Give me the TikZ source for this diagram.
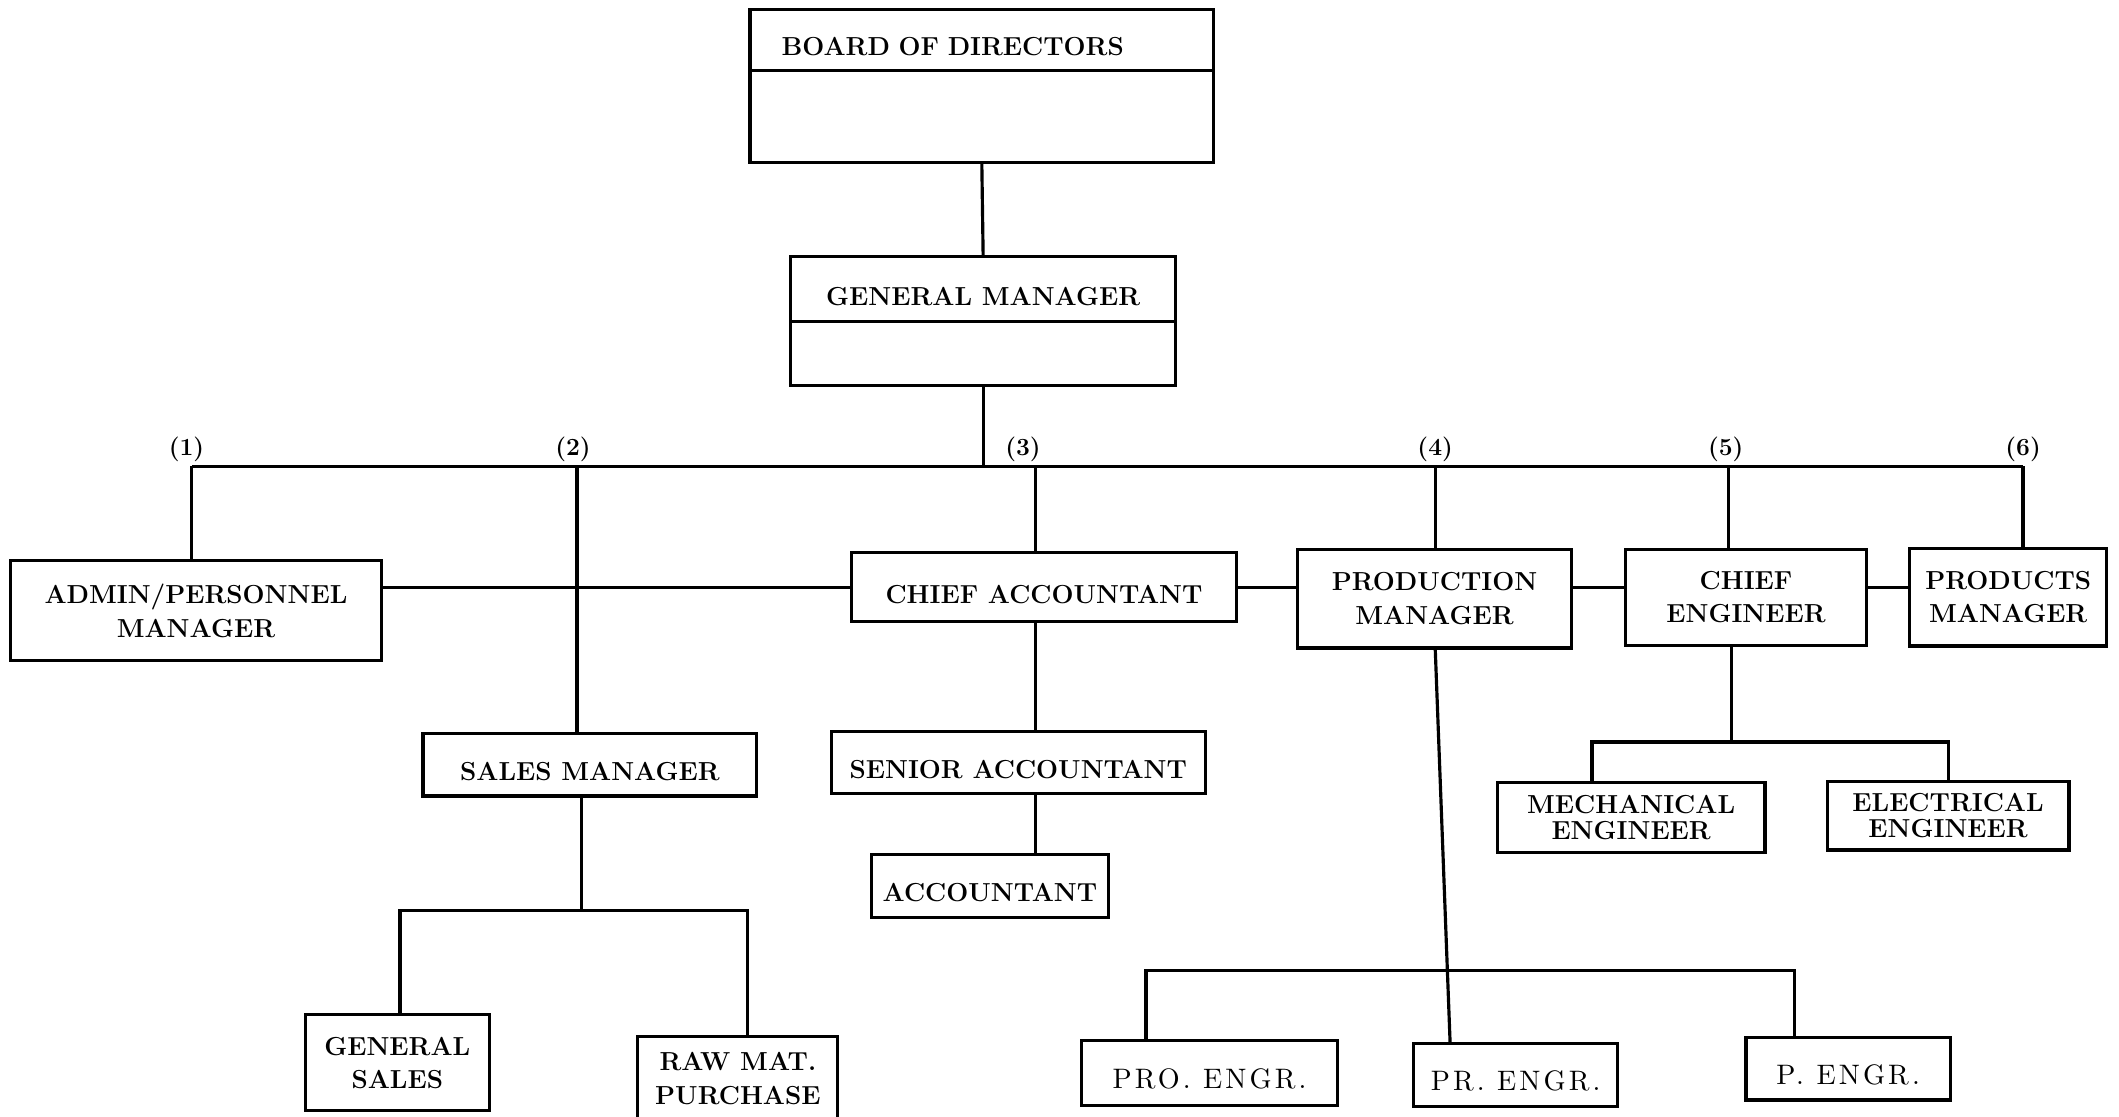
\documentclass[tikz,border=0pt]{standalone}
\usepackage{fontspec}
\usetikzlibrary{positioning}

\newfontfamily\spacedfont[LetterSpace=11]{lmroman10-regular.otf}
\newcommand{\pxu}{0.027cm}
\tikzset{
  box/.style 2 args={draw, line width=1.8pt, outer sep=0pt, inner sep=0pt,
    minimum width=#1*\pxu, minimum height=#2*\pxu, align=center,
    font=\bfseries\fontsize{14.8}{19}\selectfont},
  oneline/.style={text height=18pt, text depth=0pt},
  link/.style={line width=1.8pt},
  num/.style={font=\bfseries\fontsize{14}{14}\selectfont, anchor=south, inner sep=1pt},
  lightfont/.style={font=\spacedfont\fontsize{16}{18}\selectfont},
  tightfont/.style={font=\bfseries\fontsize{14.8}{15}\selectfont}
}

\begin{document}
\begin{tikzpicture}[x=\pxu, y=-\pxu]
        \useasboundingbox (0,0) rectangle (1568,826);

        % top of the chart
        \node[box={343}{45}, oneline, text width=8cm, align=left] (board) at (726.5,29.5) {BOARD OF DIRECTORS};
        \node[box={343}{68}, below=0pt of board] (boardlow) {};
        \node[box={285}{48}, oneline] (gm) at (727.5,214) {GENERAL MANAGER};
        \node[box={285}{47}, below=0pt of gm] (gmlow) {};

        % bus with the six numbered drops
        \foreach \x/\lx [count=\i] in {142/138, 427/424, 766/757, 1062/1062, 1279/1277, 1497/1497} {
            \coordinate (b\i) at (\x,345);
            \node[num] (n\i) at (\lx,343) {(\i)};
        }

        \draw[link] (boardlow.south) -- (gm.north);
        \draw[link] (gmlow.south) -- (gmlow.south |- b1);
        \draw[link] (b1) -- (b6);

        % second row
        \node[box={274}{74}] (admin) at (145,452) {ADMIN/PERSONNEL\\MANAGER};
        \node[box={285}{51}, oneline] (chiefacc) at (772.5,434.5) {CHIEF ACCOUNTANT};
        \node[box={203}{73}] (prodman) at (1061.5,443) {PRODUCTION\\MANAGER};
        \node[box={178}{71}] (chiefeng) at (1292,442) {CHIEF\\ENGINEER};
        \node[box={146}{72}] (prodsman) at (1486,442) {PRODUCTS\\MANAGER};

        \node[box={247}{46}, oneline] (salesman) at (436.5,566) {SALES MANAGER};

        \draw[link] (b1) -- (b1 |- admin.north);
        \draw[link] (b2) -- (b2 |- salesman.north);
        \draw[link] (b3) -- (b3 |- chiefacc.north);
        \draw[link] (b4) -- (b4 |- prodman.north);
        \draw[link] (b5) -- (b5 |- chiefeng.north);
        \draw[link] (b6) -- (b6 |- prodsman.north);

        \draw[link] (chiefacc.west) -- (chiefacc.west -| admin.east);
        \draw[link] (chiefacc.east) -- (chiefacc.east -| prodman.west);
        \draw[link] (prodman.east |- chiefacc.east) -- (chiefeng.west |- chiefacc.east);
        \draw[link] (chiefeng.east |- chiefacc.east) -- (prodsman.west |- chiefacc.east);

        % sales
        \node[box={136}{71}] (gensales) at (294,786.5) {GENERAL\\SALES};
        \node[box={148}{62}] (rawmat) at (546,798) {RAW MAT.\\PURCHASE};
        \coordinate (sj) at (430,674);
        \coordinate (sjl) at (296,674);
        \coordinate (sjr) at (553,674);
        \draw[link] (sj |- salesman.south) -- (sj);
        \draw[link] (sjl |- gensales.north) -- (sjl) -- (sjr) -- (sjr |- rawmat.north);

        % accounts
        \node[box={277}{46}, oneline] (senioracc) at (753.5,564) {SENIOR ACCOUNTANT};
        \node[box={175}{47}, oneline] (accountant) at (732.5,655.5) {ACCOUNTANT};
        \draw[link] (b3 |- chiefacc.south) -- (b3 |- senioracc.north);
        \draw[link] (b3 |- senioracc.south) -- (b3 |- accountant.north);

        % engineering
        \node[box={198}{52}, tightfont] (mecheng) at (1207,605) {MECHANICAL\\ENGINEER};
        \node[box={179}{51}, tightfont] (eleceng) at (1441.5,603.5) {ELECTRICAL\\ENGINEER};
        \coordinate (ej) at (1281,549);
        \coordinate (ejl) at (1178,549);
        \coordinate (ejr) at (1442,549);
        \draw[link] (ej |- chiefeng.south) -- (ej);
        \draw[link] (ejl |- mecheng.north) -- (ejl) -- (ejr) -- (ejr |- eleceng.north);

        % production
        \node[box={190}{48}, oneline, lightfont] (proengr) at (895,794) {PRO. ENGR.};
        \node[box={151}{47}, oneline, lightfont] (prengr) at (1121.5,795.5) {PR. ENGR.};
        \node[box={151}{46}, oneline, lightfont] (pengr) at (1367.5,791) {P. ENGR.};
        \coordinate (pjl) at (848,718);
        \coordinate (pjr) at (1328,718);
        \draw[link] (pjl |- proengr.north) -- (pjl) -- (pjr) -- (pjr |- pengr.north);
        \draw[link] (b4 |- prodman.south) -- ([xshift=0.73cm]prengr.north west);
    \end{tikzpicture}
\end{document}
